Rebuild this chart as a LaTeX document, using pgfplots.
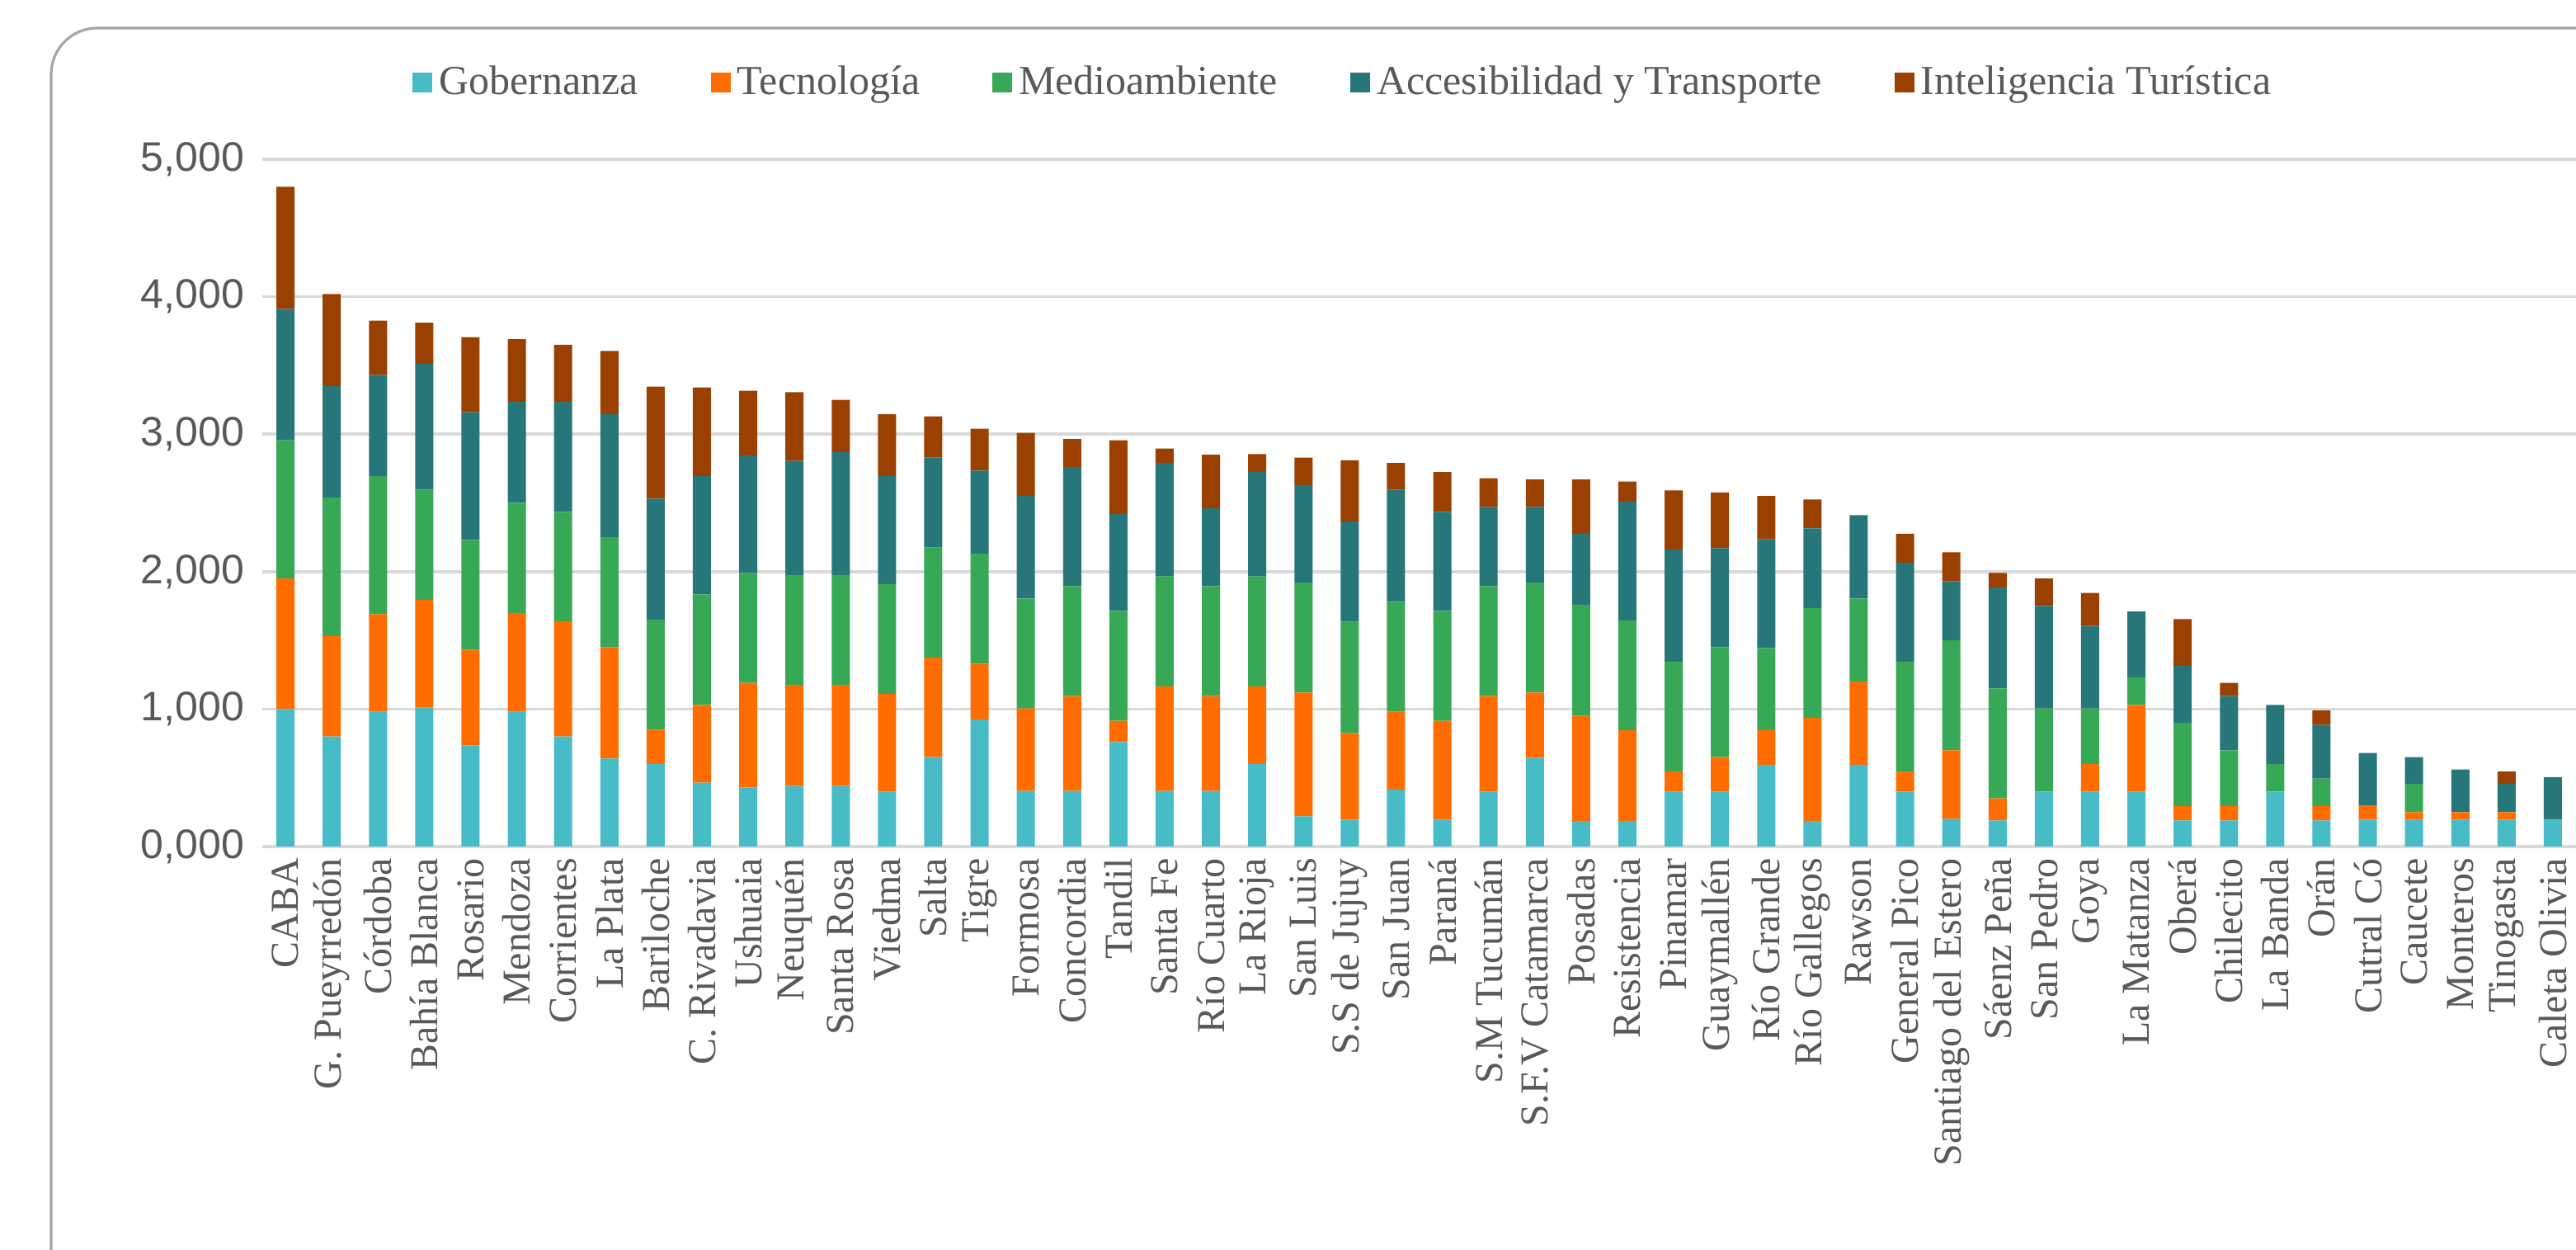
\documentclass[border=0pt]{standalone}
\usepackage{fontspec}
\setmainfont{Liberation Serif}
\setsansfont{Liberation Sans}
\usepackage{pgfplots}
\usepackage{pgfplotstable}
\pgfplotsset{compat=1.18}
\definecolor{gob}{HTML}{47BBC6}
\definecolor{tec}{HTML}{FF6D00}
\definecolor{med}{HTML}{37A856}
\definecolor{acc}{HTML}{26767A}
\definecolor{int}{HTML}{9A4000}
\definecolor{gridgray}{HTML}{D9D9D9}
\definecolor{labgray}{HTML}{595959}
\definecolor{framegray}{HTML}{A6A6A6}

\pgfplotstableread{
x gob tec med acc int
0 1000 950 1005 955 890
1 800 730 1010 810 670
2 980 710 1005 735 395
3 1010 785 800 915 300
4 735 695 800 930 545
5 980 720 800 735 455
6 800 840 795 800 415
7 640 810 800 895 460
8 600 250 800 880 815
9 465 565 805 860 645
10 430 760 800 855 470
11 440 735 800 830 500
12 440 735 800 895 380
13 400 710 800 785 450
14 650 725 800 655 300
15 925 405 800 605 305
16 405 600 800 745 460
17 405 690 800 865 205
18 760 155 800 705 535
19 405 760 800 825 105
20 405 690 800 565 390
21 600 565 800 760 130
22 220 900 800 710 200
23 195 630 810 730 445
24 415 565 800 815 195
25 195 720 800 720 290
26 400 695 800 575 210
27 645 475 800 550 200
28 185 765 810 515 395
29 185 660 800 865 145
30 400 145 800 815 430
31 400 250 800 720 405
32 595 250 600 790 315
33 185 750 800 580 210
34 595 605 605 605 0
35 400 145 800 720 210
36 200 500 800 430 210
37 190 160 800 735 105
38 400 0 605 745 200
39 400 200 405 600 240
40 400 630 200 480 0
41 190 105 605 415 340
42 190 105 405 395 95
43 400 0 200 430 0
44 190 105 200 390 105
45 195 105 0 380 0
46 195 55 205 195 0
47 195 55 0 310 0
48 195 55 0 205 90
49 195 0 0 310 0
}\datatable

\begin{document}
\begin{tikzpicture}
\path[use as bounding box] (0pt,0pt) rectangle (780.75pt,378.75pt);
\begin{scope}
\clip (0pt,0pt) rectangle (780.75pt,378.75pt);
\draw[framegray, line width=0.8pt, rounded corners=14pt] (15.5pt,-40pt) rectangle (820pt,370.25pt);
\end{scope}
\begin{axis}[
  at={(79.5pt,122.25pt)}, anchor=south west,
  scale only axis, width=701.25pt, height=208.25pt,
  ybar stacked, bar width=5.5pt,
  xmin=-0.5, xmax=49.5, ymin=0, ymax=5000,
  xtick={0,...,49},
  xticklabels={CABA,G. Pueyrredón,Córdoba,Bahía Blanca,Rosario,Mendoza,Corrientes,La Plata,Bariloche,C. Rivadavia,Ushuaia,Neuquén,Santa Rosa,Viedma,Salta,Tigre,Formosa,Concordia,Tandil,Santa Fe,Río Cuarto,La Rioja,San Luis,S.S de Jujuy,San Juan,Paraná,S.M Tucumán,S.F.V Catamarca,Posadas,Resistencia,Pinamar,Guaymallén,Río Grande,Río Gallegos,Rawson,General Pico,Santiago del Estero,Sáenz Peña,San Pedro,Goya,La Matanza,Oberá,Chilecito,La Banda,Orán,Cutral Có,Caucete,Monteros,Tinogasta,Caleta Olivia},
  ytick={0,1000,2000,3000,4000,5000},
  yticklabels={{0,000},{1,000},{2,000},{3,000},{4,000},{5,000}},
  ymajorgrids, grid style={line width=0.9pt, color=gridgray},
  axis line style={draw=none},
  major tick length=0pt,
  xticklabel style={rotate=90, anchor=east, font=\fontsize{12}{14}\selectfont, text=labgray},
  yticklabel style={font=\sffamily\fontsize{12.5}{14}\selectfont, text=labgray, xshift=-2pt},
  legend columns=5,
  legend style={at={(0.468,1.112)}, anchor=center, draw=none, fill=none,
    font=\fontsize{12.5}{15}\selectfont, text=labgray,
    /tikz/every even column/.append style={column sep=20pt}},
  legend image code/.code={\path[#1] (0pt,-3pt) rectangle (6pt,3pt);},
]
\addplot[fill=gob, draw=none] table[x=x, y=gob] {\datatable};
\addplot[fill=tec, draw=none] table[x=x, y=tec] {\datatable};
\addplot[fill=med, draw=none] table[x=x, y=med] {\datatable};
\addplot[fill=acc, draw=none] table[x=x, y=acc] {\datatable};
\addplot[fill=int, draw=none] table[x=x, y=int] {\datatable};
\legend{Gobernanza,Tecnología,Medioambiente,Accesibilidad y Transporte,Inteligencia Turística}
\end{axis}
\end{tikzpicture}
\end{document}
